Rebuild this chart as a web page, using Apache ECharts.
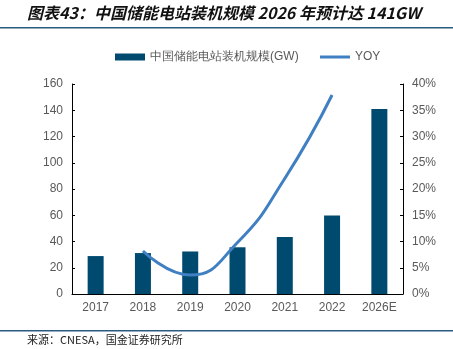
<!DOCTYPE html>
<html><head><meta charset="utf-8">
<script src="https://cdn.jsdelivr.net/npm/echarts@6/dist/echarts.min.js"></script>
<style>html,body{margin:0;padding:0;background:#fff;}#c{width:453px;height:349px;}</style>
</head><body><div id="c"></div>
<script>
const categories = ['2017','2018','2019','2020','2021','2022','2026E'];
const capacity = [28.9, 31.2, 32.4, 35.6, 43.4, 59.8, 141];
const yoy = [null, 8.2, 3.6, 9.8, 22.0, 37.9, null];
const leftTicks = [0, 20, 40, 60, 80, 100, 120, 140, 160];
const rightTicks = [0, 5, 10, 15, 20, 25, 30, 35, 40];

const chart = echarts.init(document.getElementById('c'), null, {renderer:'canvas'});
const font = '"Liberation Sans", Arial, sans-serif';
chart.setOption({
  animation: false,
  backgroundColor: '#fff',
  graphic: [
    {type:'text', left: 27, top: 5, style:{text:'图表43：中国储能电站装机规模 2026 年预计达 141GW', font:'italic bold 16px "Noto Sans CJK SC"', fill:'#111'}},
    {type:'rect', shape:{x:0,y:27,width:453,height:1.5}, style:{fill:'#2b5a7c'}},
    {type:'rect', shape:{x:0,y:330,width:453,height:1.5}, style:{fill:'#2b5a7c'}},
    {type:'text', left: 27, top: 334, style:{text:'来源：CNESA，国金证券研究所', font:'11px "Noto Sans CJK SC"', fill:'#222'}}
  ],
  legend: [
    {left: 110, top: 46, itemWidth: 30, itemHeight: 7, itemGap: 5,
     textStyle:{color:'#595959', fontSize:12, fontFamily:font},
     data: [{name:'中国储能电站装机规模(GW)', icon:'rect'}]},
    {left: 315, top: 46, itemWidth: 30, itemHeight: 3,
     textStyle:{color:'#595959', fontSize:12, fontFamily:font},
     data: [{name:'YOY', icon:'rect', itemStyle:{color:'#4080c2'}}]}
  ],
  grid: {left:72, right:50, top:84, bottom:55},
  xAxis: {
    type:'category', data: categories, boundaryGap: true,
    axisLine:{lineStyle:{color:'#000', width:1}},
    axisTick:{inside:true, length:3, lineStyle:{color:'#000'}},
    axisLabel:{color:'#595959', fontSize:12, fontFamily:font, margin:8}
  },
  yAxis: [
    {type:'value', min:0, max:160, interval:20,
     axisLine:{show:true, lineStyle:{color:'#000'}},
     axisTick:{show:true, inside:true, length:3, lineStyle:{color:'#000'}},
     splitLine:{show:false},
     axisLabel:{color:'#595959', fontSize:12, fontFamily:font, margin:9}},
    {type:'value', min:0, max:40, interval:5,
     axisLine:{show:true, lineStyle:{color:'#000'}},
     axisTick:{show:true, inside:true, length:3, lineStyle:{color:'#000'}},
     splitLine:{show:false},
     axisLabel:{color:'#595959', fontSize:12, fontFamily:font, margin:9, formatter:'{value}%'}}
  ],
  series: [
    {name:'中国储能电站装机规模(GW)', type:'bar', data: capacity, barWidth:16,
     itemStyle:{color:'#004a6f'}},
    {name:'YOY', type:'line', yAxisIndex:1, data: yoy, smooth:0.5, showSymbol:false, symbol:'none',
     lineStyle:{color:'#4080c2', width:3}, itemStyle:{color:'#4080c2'}}
  ]
});
</script></body></html>
